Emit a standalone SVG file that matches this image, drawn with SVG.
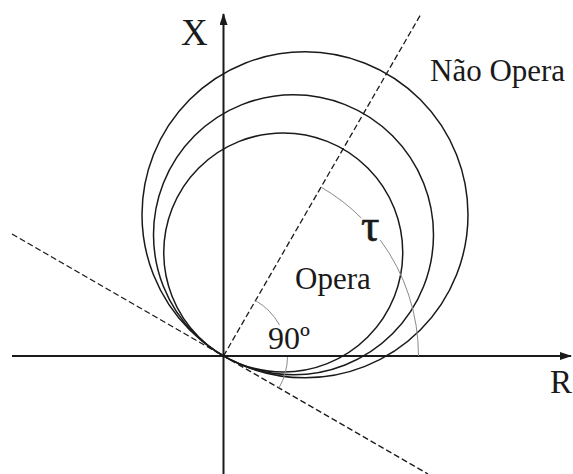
<svg xmlns="http://www.w3.org/2000/svg" width="573" height="474" viewBox="0 0 573 474">
<style>
.t{font-family:"Liberation Serif","Times New Roman",serif;fill:#1a1a1a}
.axis{stroke:#1a1a1a;stroke-width:2;fill:none}
.circ{stroke:#1a1a1a;stroke-width:1.5;fill:none}
.dash{stroke:#1a1a1a;stroke-width:1.3;stroke-dasharray:6 3;fill:none}
.arc{stroke:#8a8a8a;stroke-width:1;fill:none}
</style>
<defs>
<marker id="ah" markerWidth="12" markerHeight="8" refX="11" refY="4" orient="auto" markerUnits="userSpaceOnUse">
<path d="M0,0 L12,4 L0,8 Z" fill="#1a1a1a"/>
</marker>
</defs>
<rect width="573" height="474" fill="#fff"/>
<g id="connectors">
<line class="axis" x1="12" y1="356" x2="571" y2="356" marker-end="url(#ah)"/>
<line class="axis" x1="223.5" y1="474" x2="223.5" y2="14" marker-end="url(#ah)"/>
<line class="dash" x1="223.5" y1="356" x2="420.4" y2="15"/>
<line class="dash" x1="12" y1="234" x2="428" y2="474"/>
</g>
<g id="circles">
<circle class="circ" cx="283.25" cy="252.5" r="119.5"/>
<circle class="circ" cx="293.5" cy="234.8" r="140"/>
<circle class="circ" cx="305" cy="214.8" r="163"/>
</g>
<g id="arcs">
<path class="arc" d="M321,187.1 A195,195 0 0 1 361.4,218.1"/>
<path class="arc" d="M380.3,240.1 A195,195 0 0 1 418.5,356"/>
<path class="arc" d="M255.5,300.6 A64,64 0 0 1 279.5,325"/>
<path class="arc" d="M287.5,357.1 A64,64 0 0 1 278.9,388"/>
</g>
<g id="labels">
<text class="t" x="181" y="45" font-size="37">X</text>
<text class="t" x="430" y="81" font-size="31">Não Opera</text>
<text class="t" x="361" y="241" font-size="46" stroke="#1a1a1a" stroke-width="0.6">τ</text>
<text class="t" x="295" y="289" font-size="31">Opera</text>
<text class="t" x="268" y="349" font-size="32">90º</text>
<text class="t" x="550" y="393" font-size="33">R</text>
</g>
</svg>
